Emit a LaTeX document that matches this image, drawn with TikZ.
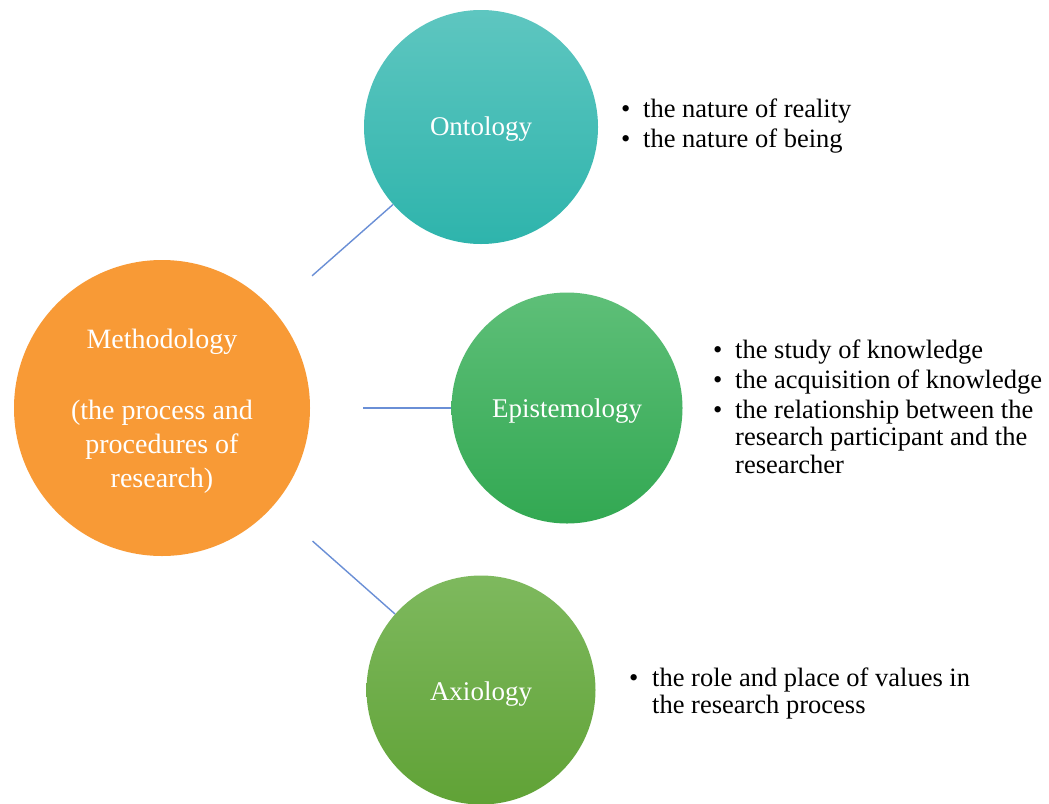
\documentclass[tikz,border=0pt]{standalone}
\usepackage{fontspec}
\setmainfont{Liberation Serif}
\usetikzlibrary{calc}
\definecolor{methc}{HTML}{F89A36}
\definecolor{ontotop}{HTML}{5EC6C0}
\definecolor{ontobot}{HTML}{2EB4AC}
\definecolor{epitop}{HTML}{5EBF78}
\definecolor{epibot}{HTML}{32A852}
\definecolor{axiotop}{HTML}{7EB95E}
\definecolor{axiobot}{HTML}{60A236}
\definecolor{linkc}{HTML}{6A8FD6}
\newcommand{\bul}[1]{\makebox[#1][l]{\textbullet}}
\newcommand{\lowr}[2]{\raisebox{-#1}[\height][\depth]{#2}}
\tikzset{
  bigcirc/.style={circle, inner sep=0pt, text=white, align=center},
  conn/.style={draw=linkc, line width=1.4pt},
  listtext/.style={inner sep=0pt, anchor=base west, text=black, font=\fontsize{26.5}{28}\selectfont}
}
\begin{document}
\begin{tikzpicture}[x=1pt,y=-1pt]
\useasboundingbox[fill=white] (0,0) rectangle (1049,803);
\node[bigcirc, fill=methc, minimum size=296pt, font=\fontsize{28}{34}\selectfont] (m) at (162,408)
  {\lowr{3pt}{\begin{tabular}{@{}c@{}}Methodology\\[37pt](the process and\\procedures of\\research)\end{tabular}}};
\node[bigcirc, top color=ontotop, bottom color=ontobot, minimum size=234pt, font=\fontsize{27}{32}\selectfont] (o) at (481,127) {\lowr{2.5pt}{Ontology}};
\node[bigcirc, top color=epitop, bottom color=epibot, minimum size=231pt, font=\fontsize{27}{32}\selectfont] (e) at (567,408) {\lowr{3pt}{Epistemology}};
\node[bigcirc, top color=axiotop, bottom color=axiobot, minimum size=229pt, font=\fontsize{27}{32}\selectfont] (a) at (481,690) {\lowr{4pt}{Axiology}};
\draw[conn] ($(m)!200pt!(o)$) -- (o);
\draw[conn] ($(m)!201pt!(e)$) -- (e);
\draw[conn] ($(m)!201pt!(a)$) -- (a);
\node[listtext] (ol) at (621,117) {\begin{tabular}[t]{@{}l@{}}\bul{22pt}the nature of reality\\[2pt]\bul{22pt}the nature of being\end{tabular}};
\node[listtext] (el) at (713,358) {\begin{tabular}[t]{@{}l@{}}\bul{22pt}the study of knowledge\\[2pt]\bul{22pt}the acquisition of knowledge\\[2pt]\bul{22pt}the relationship between the\\[-1pt]\hspace{22pt}research participant and the\\\hspace{22pt}researcher\end{tabular}};
\node[listtext] (al) at (629,686) {\begin{tabular}[t]{@{}l@{}}\bul{23pt}the role and place of values in\\[-1pt]\hspace{23pt}the research process\end{tabular}};
\end{tikzpicture}
\end{document}
